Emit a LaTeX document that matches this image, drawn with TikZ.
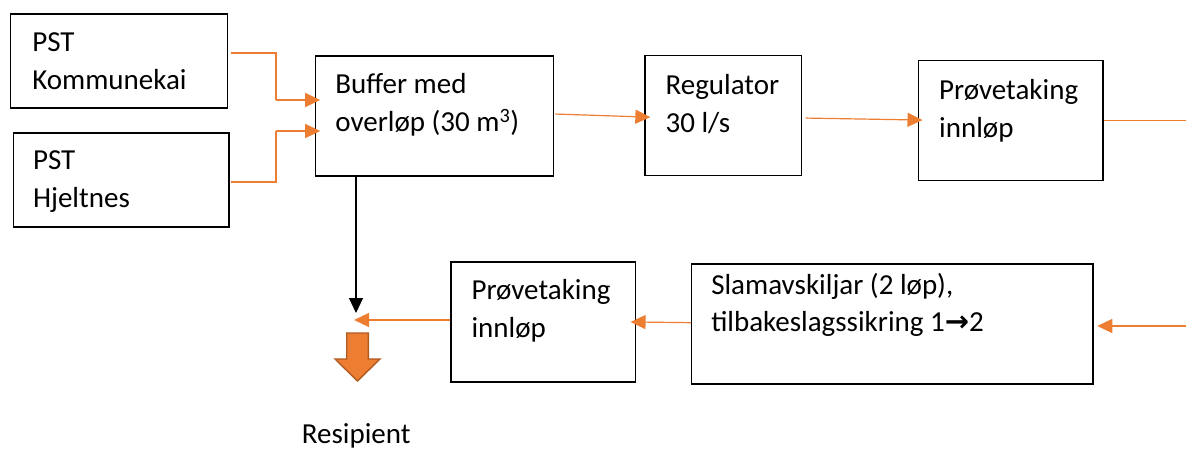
\documentclass[tikz,border=0pt]{standalone}
\usepackage{fontspec}
\setmainfont{Carlito}
\newfontfamily\arrowfont{DejaVu Sans}
\usetikzlibrary{arrows.meta}
\definecolor{flowor}{HTML}{ED7D31}
\definecolor{resedge}{HTML}{B05A20}

\begin{document}
\begin{tikzpicture}[x=1pt, y=-1pt,
	block/.style={draw, line width=1.2pt, inner sep=0pt},
	txt/.style={anchor=base west, inner sep=0pt, align=left,
		font=\fontsize{29}{38}\selectfont},
	flow/.style={draw=flowor, line width=1.2pt, -{Triangle[length=15pt, width=14pt]}},
	pipe/.style={draw=flowor, line width=1.2pt}]
	\useasboundingbox (0, 0) rectangle (1186, 449);

	\node [block, minimum width=217pt, minimum height=94pt] (kom) at (119.2, 61) {};
	\node [block, minimum width=215.5pt, minimum height=94pt] (hje) at (121.2, 180) {};
	\node [block, minimum width=238pt, minimum height=120pt] (buf) at (434.8, 116) {};
	\node [block, minimum width=156.5pt, minimum height=120pt] (reg) at (723.2, 115.7) {};
	\node [block, minimum width=184.4pt, minimum height=120pt] (inn1) at (1010.8, 120.7) {};
	\node [block, minimum width=401.3pt, minimum height=120pt] (slam) at (892.3, 324) {};
	\node [block, minimum width=184.7pt, minimum height=120pt] (inn2) at (543.3, 322) {};

	\node [txt] (komtxt) at ([shift={(22, 76.5)}]kom.north west) {PST\\Kommunekai};
	\node [txt] (hjetxt) at ([shift={(20, 75.5)}]hje.north west) {PST\\Hjeltnes};
	\node [txt] (buftxt) at ([shift={(20, 76)}]buf.north west) {Buffer med\\overløp (30 m\textsuperscript{3})};
	\node [txt] (regtxt) at ([shift={(21, 77)}]reg.north west) {Regulator\\30 l/s};
	\node [txt] (inn1txt) at ([shift={(21, 77)}]inn1.north west) {Prøvetaking\\innløp};
	\node [txt, font=\fontsize{29}{36.5}\selectfont] (slamtxt) at ([shift={(20, 68)}]slam.north west) {Slamavskiljar (2 løp),\\tilbakeslagssikring 1{\arrowfont\bfseries →}2};
	\node [txt] (inn2txt) at ([shift={(21, 76.5)}]inn2.north west) {Prøvetaking\\innløp};
	\node [txt] (res) at (301.7, 443) {Resipient};

	\coordinate (k1) at (276, 100);
	\coordinate (h1) at (276, 131);
	\coordinate (outR) at (1186, 120.7);
	\coordinate (inR) at (1186, 326);
	\coordinate (dest) at (354, 320);
	\coordinate (drop) at (356, 313);

	\draw [pipe] ([shift={(3, -8)}]kom.east) -| (k1);
	\draw [flow, shorten >=-5pt] (k1) -- (k1 -| buf.west);
	\draw [pipe] ([shift={(1, 2)}]hje.east) -| (h1);
	\draw [flow, shorten >=-5pt] (h1) -- (h1 -| buf.west);
	\draw [flow, shorten <=1pt, shorten >=-6pt] ([yshift=2pt]buf.east) -- ([yshift=-1.3pt]reg.west);
	\draw [flow, shorten <=3.5pt, shorten >=-4.5pt] ([yshift=-2.3pt]reg.east) -- ([yshift=0.7pt]inn1.west);
	\draw [pipe] (inn1.east) -- (outR);
	\draw [flow, shorten >=3.7pt] (inR) -- ([yshift=-2pt]slam.east);
	\draw [flow, shorten >=-5.7pt] ([yshift=1.3pt]slam.west) -- (inn2.east);
	\draw [flow] ([yshift=2pt]inn2.west) -- (dest);
	\draw [line width=1.2pt, -{Triangle[length=15pt, width=14pt]}] (buf.south -| drop) -- (drop);

	\draw [fill=flowor, draw=resedge, line width=1.4pt] (346.7, 333) -- (368.3, 333) -- (368.3, 359)
	-- (380, 359) -- (357.5, 381) -- (335, 359) -- (346.7, 359) -- cycle;
\end{tikzpicture}
\end{document}
